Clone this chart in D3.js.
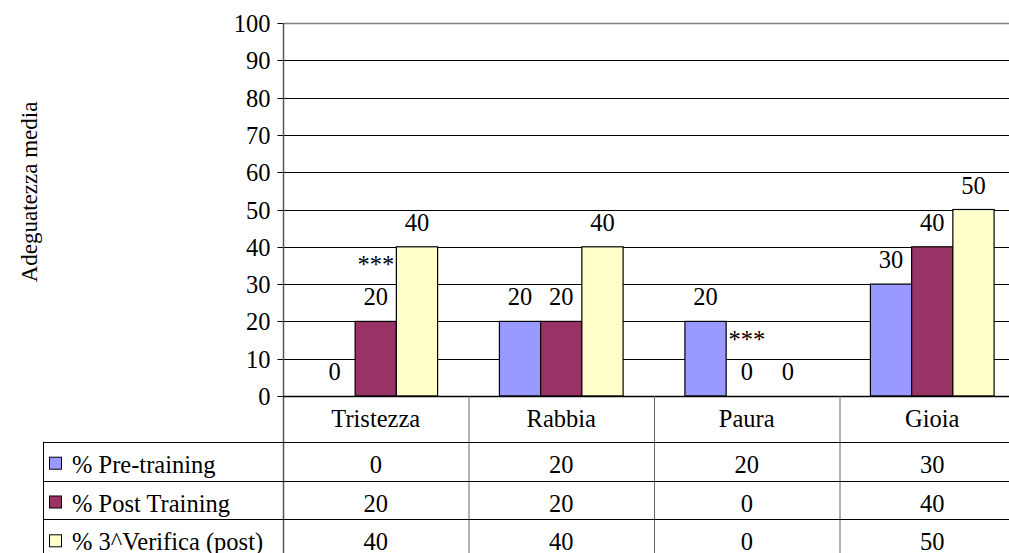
<!DOCTYPE html>
<html lang="it">
<head>
<meta charset="UTF-8">
<title>Adeguatezza media</title>
<script src="https://d3js.org/d3.v7.min.js"></script>
<style>
  body { margin: 0; background: #fff; }
  svg { display: block; font-family: "Liberation Serif", "Times New Roman", serif; }
  .lbl { font-family: "Liberation Serif", "Times New Roman", serif; font-size: 24.5px; fill: #000; }
</style>
</head>
<body>
<svg width="1009" height="553"></svg>
<script>
const categorie = ["Tristezza", "Rabbia", "Paura", "Gioia"];
const serie = ["% Pre-training", "% Post Training", "% 3^Verifica (post)"];
const valori = [
  [0, 20, 20, 30],
  [20, 20, 0, 40],
  [40, 40, 0, 50]
];
const colori = ["#9999FF", "#993366", "#FFFFCC"];
const yTicks = [0, 10, 20, 30, 40, 50, 60, 70, 80, 90, 100];
// asterischi sopra alcune etichette (categoria, indice serie)
const note = [
  { cat: "Tristezza", s: 1, testo: "***" },
  { cat: "Paura", s: 1, testo: "***" }
];

const svg = d3.select("svg");
const x0 = 283, catW = 185.5;
const x = d3.scaleBand().domain(categorie).range([x0, x0 + catW * categorie.length]).paddingInner(0).paddingOuter(0);
const xs = d3.scaleBand().domain(d3.range(serie.length)).range([0, catW]).paddingInner(0).paddingOuter(0.75);
const y = d3.scaleLinear().domain([0, 100]).range([396, 23]);
const right = x.range()[1];

// griglia
svg.append("g").selectAll("line").data(yTicks.filter(d => d > 0)).join("line")
  .attr("x1", x0).attr("x2", right)
  .attr("y1", d => Math.round(y(d)) + 0.5).attr("y2", d => Math.round(y(d)) + 0.5)
  .attr("stroke", d => d === 100 ? "#808080" : "#000").attr("stroke-width", d => d === 100 ? 1.5 : 1);

// asse y
const yAxis = d3.axisLeft(y).tickValues(yTicks).tickSize(6).tickPadding(7);
const ga = svg.append("g").attr("transform", `translate(${x0 + 0.5},0)`).call(yAxis);
ga.attr("font-family", null).attr("font-size", null);
ga.select(".domain").remove();
ga.selectAll(".tick line").attr("stroke", "#000");
ga.selectAll(".tick text").attr("class", "lbl").attr("fill", "#000").attr("dy", "0.33em");
ga.selectAll(".tick").attr("transform", d => `translate(0,${Math.round(y(d)) + 0.5})`);

// barre
const gb = svg.append("g");
serie.forEach((s, si) => {
  gb.selectAll(null).data(categorie).join("rect")
    .attr("x", c => x(c) + xs(si))
    .attr("y", (c, i) => y(valori[si][i]))
    .attr("width", xs.bandwidth())
    .attr("height", (c, i) => y(0) - y(valori[si][i]))
    .attr("fill", colori[si])
    .attr("stroke", "#000").attr("stroke-width", 1.2);
  gb.selectAll(null).data(categorie).join("text")
    .attr("class", "lbl").attr("text-anchor", "middle")
    .attr("x", c => x(c) + xs(si) + xs.bandwidth() / 2)
    .attr("y", (c, i) => y(valori[si][i]) - 16)
    .text((c, i) => valori[si][i]);
});
svg.append("g").selectAll("text").data(note).join("text")
  .attr("class", "lbl").attr("text-anchor", "middle")
  .attr("x", d => x(d.cat) + xs(d.s) + xs.bandwidth() / 2)
  .attr("y", d => y(valori[d.s][categorie.indexOf(d.cat)]) - 48)
  .text(d => d.testo);

// asse e bordo verticale
svg.append("line").attr("x1", x0 + 0.5).attr("x2", x0 + 0.5).attr("y1", y(100)).attr("y2", 553)
  .attr("stroke", "#555").attr("stroke-width", 1.5);
svg.append("line").attr("x1", x0).attr("x2", right).attr("y1", y(0) + 0.5).attr("y2", y(0) + 0.5)
  .attr("stroke", "#000").attr("stroke-width", 1.5);

// tabella dati
const rowTop = 441.7, rowH = 38.8, tableLeft = 43;
const gt = svg.append("g");
gt.selectAll("line.div").data(categorie.slice(1).concat(["end"])).join("line")
  .attr("x1", c => c === "end" ? right : x(c) + 0.5).attr("x2", c => c === "end" ? right : x(c) + 0.5)
  .attr("y1", y(0)).attr("y2", 553).attr("stroke", "#666");
gt.selectAll("text.cat").data(categorie).join("text")
  .attr("class", "lbl").attr("text-anchor", "middle")
  .attr("x", c => x(c) + catW / 2).attr("y", 427).text(c => c);
serie.forEach((s, si) => {
  const top = rowTop + si * rowH;
  gt.append("line").attr("x1", tableLeft).attr("x2", right)
    .attr("y1", Math.round(top) + 0.5).attr("y2", Math.round(top) + 0.5).attr("stroke", "#000");
  gt.append("rect").attr("x", 49.5).attr("y", top + 15.5).attr("width", 12).attr("height", 12)
    .attr("fill", colori[si]).attr("stroke", "#000").attr("stroke-width", 1);
  gt.append("text").attr("class", "lbl").attr("x", 72).attr("y", top + 31).text(s);
  gt.selectAll(null).data(categorie).join("text")
    .attr("class", "lbl").attr("text-anchor", "middle")
    .attr("x", c => x(c) + catW / 2).attr("y", top + 31)
    .text((c, i) => valori[si][i]);
});
gt.append("line").attr("x1", tableLeft + 0.5).attr("x2", tableLeft + 0.5)
  .attr("y1", rowTop).attr("y2", 553).attr("stroke", "#000");

// titolo asse y
svg.append("text").attr("class", "lbl").attr("text-anchor", "middle")
  .attr("transform", "translate(37,192) rotate(-90)")
  .style("font-size", "23px")
  .text("Adeguatezza media");
</script>
</body>
</html>
